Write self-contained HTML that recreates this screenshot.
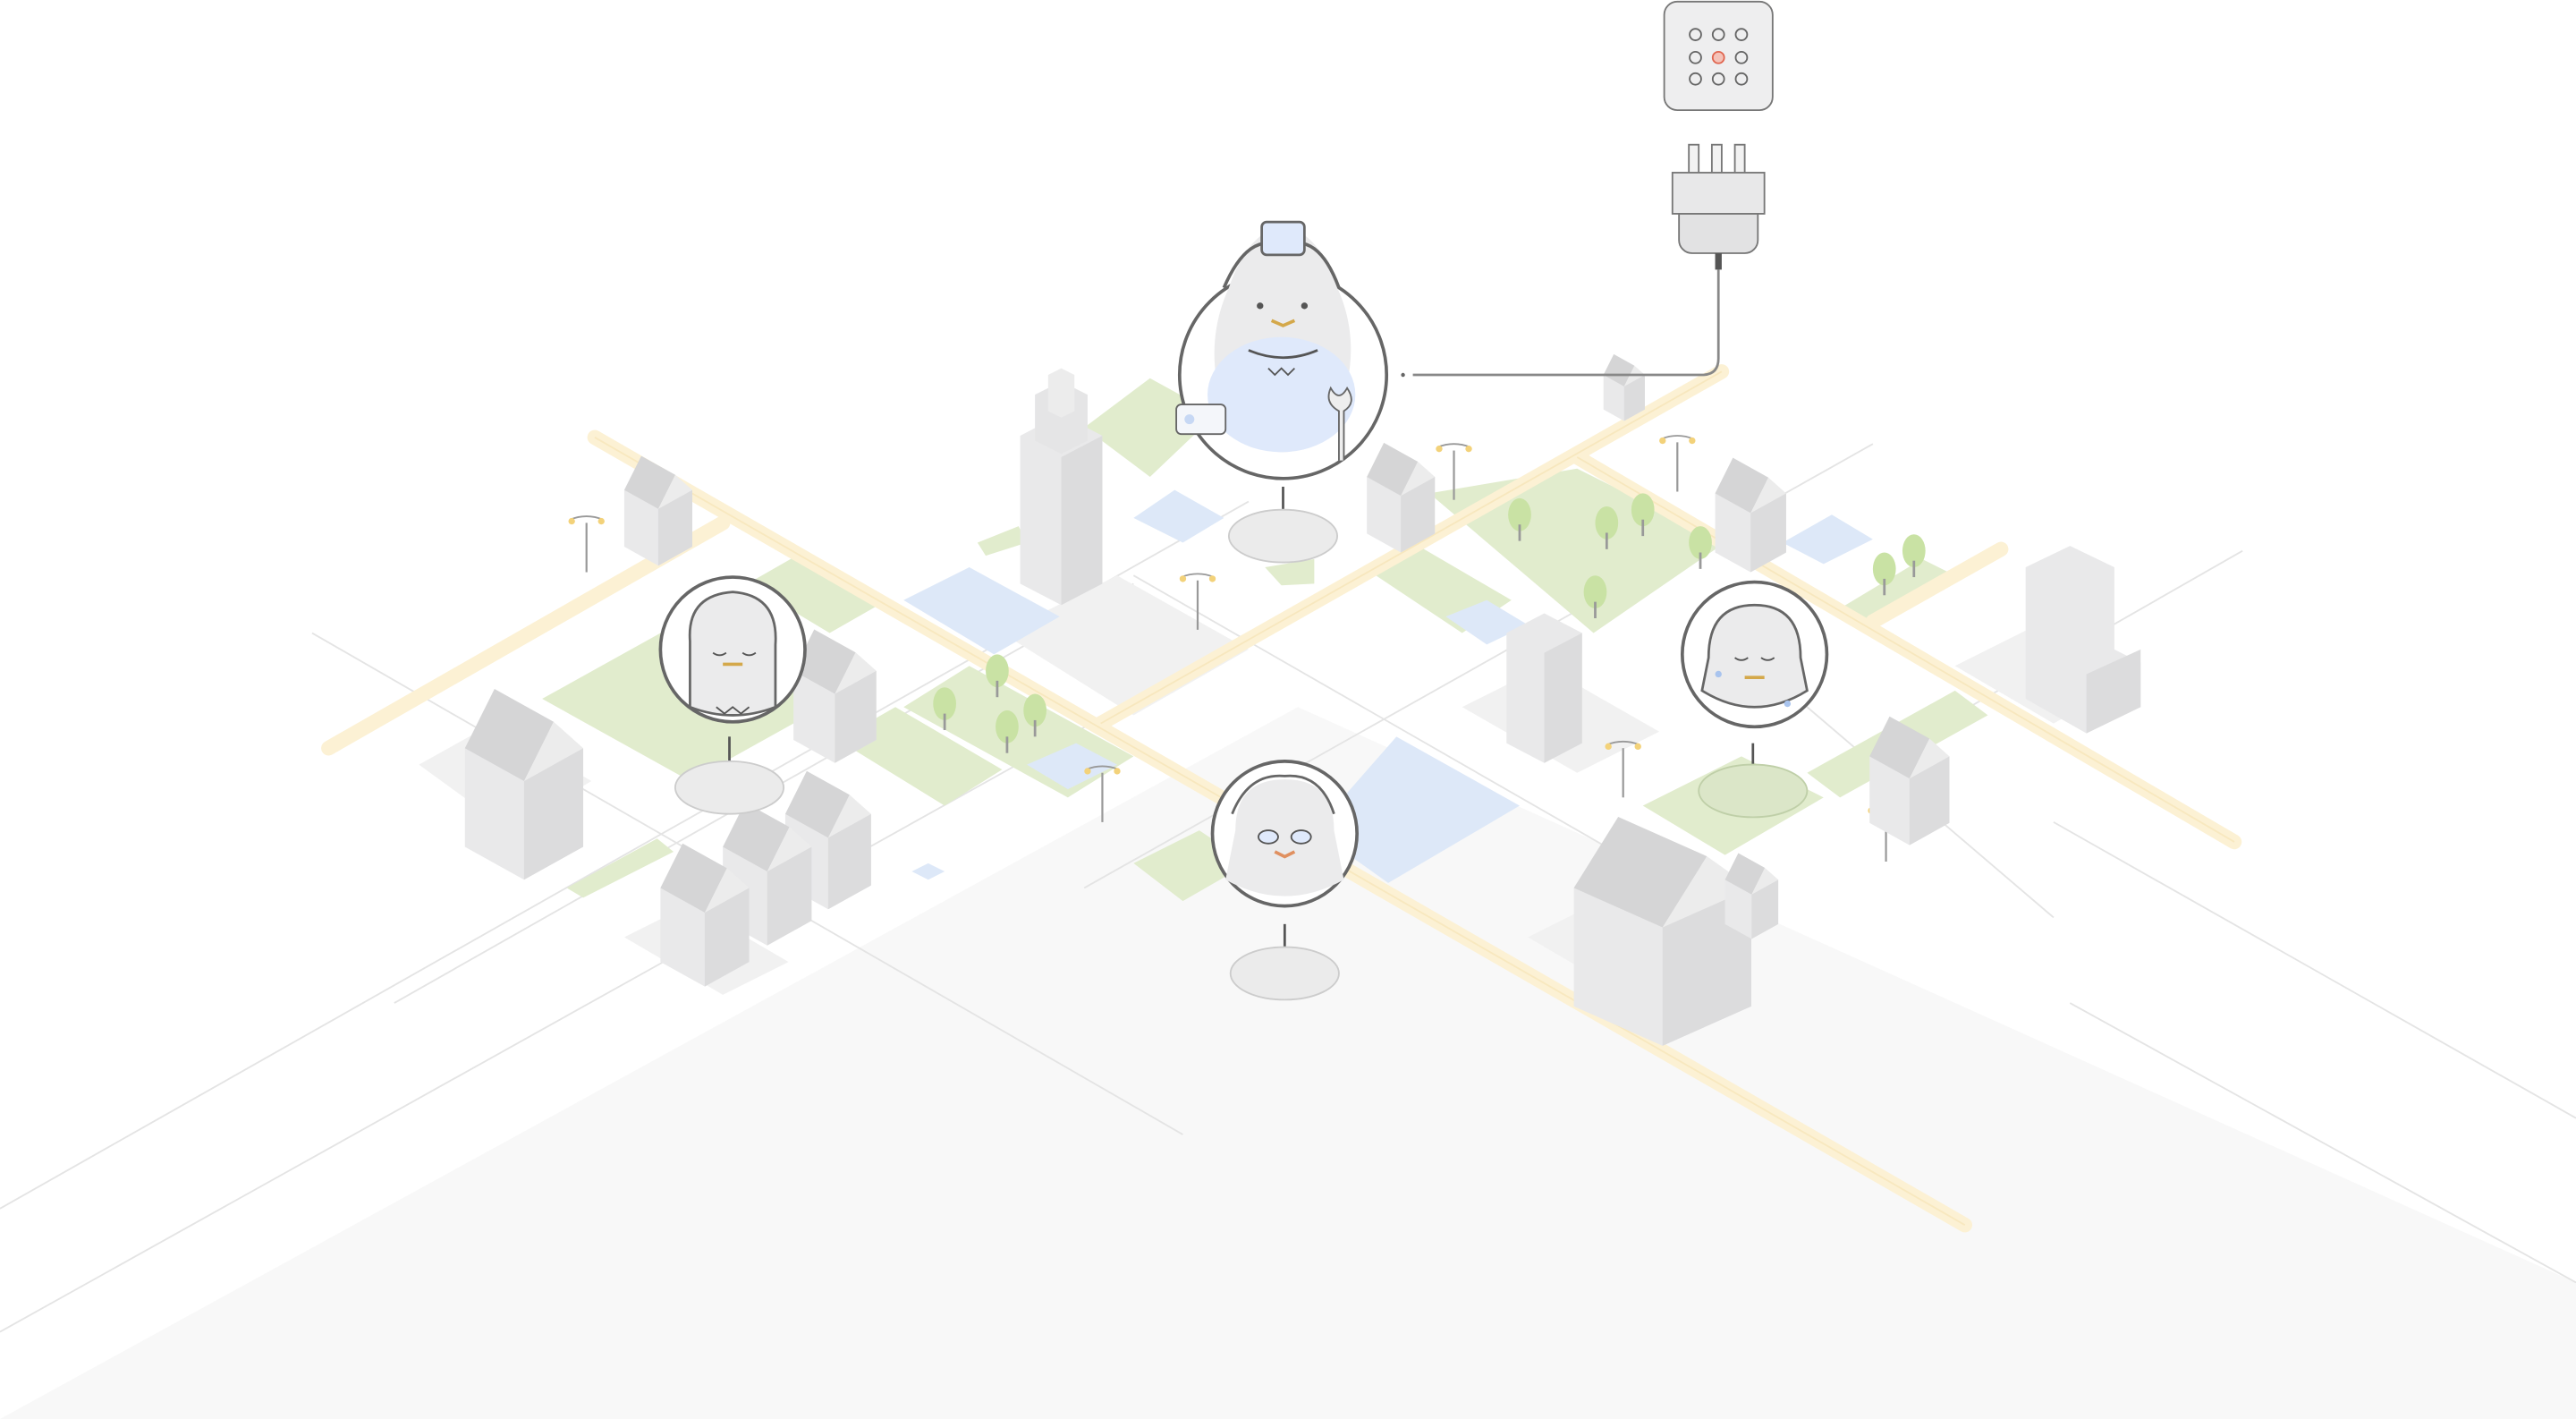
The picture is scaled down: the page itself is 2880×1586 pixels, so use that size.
<!DOCTYPE html>
<html><head><meta charset="utf-8"><style>html,body{margin:0;padding:0;background:#fff}svg{display:block}</style></head><body>
<svg width="2880" height="1586" viewBox="0 0 1568 863" preserveAspectRatio="none" xmlns="http://www.w3.org/2000/svg">
<defs>
<g id="house">
<polygon points="0,0 18,-10 36,0 36,30 18,40 0,30" fill="#e9e9ea"/>
<polygon points="18,10 36,0 36,30 18,40" fill="#dcdcdd"/>
<polygon points="0,0 9,-18 27,-8 18,10" fill="#d5d5d6"/>
<polygon points="18,10 27,-8 36,0" fill="#ececec"/>
</g>
<g id="tree"><ellipse cx="0" cy="0" rx="7" ry="10" fill="#c9e2a4"/><line x1="0" y1="6" x2="0" y2="16" stroke="#999" stroke-width="1.5"/></g>
<g id="lamp"><line x1="0" y1="0" x2="0" y2="30" stroke="#999" stroke-width="1.2"/><path d="M-10,-2 Q0,-6 10,-2" stroke="#999" fill="none"/><circle cx="-9" cy="-1" r="2" fill="#f3d27a"/><circle cx="9" cy="-1" r="2" fill="#f3d27a"/></g>
</defs>
<polygon points="0,863 790,430 1568,780 1568,863" fill="#f8f8f8"/>
<g stroke="#e4e4e4" stroke-width="1" fill="none">
<line x1="0" y1="735" x2="760" y2="305"/>
<line x1="0" y1="810" x2="700" y2="420"/>
<line x1="1568" y1="680" x2="1250" y2="500"/>
<line x1="1568" y1="780" x2="1260" y2="610"/>
<line x1="190" y1="385" x2="720" y2="690"/>
<line x1="240" y1="610" x2="690" y2="355"/>
<line x1="660" y1="540" x2="1140" y2="270"/>
<line x1="1365" y1="335" x2="1120" y2="475"/>
<line x1="690" y1="350" x2="1030" y2="545"/>
<line x1="1100" y1="430" x2="1250" y2="558"/>
</g>
<g fill="#f1f1f1">
<polygon points="255,465 300,440 360,475 310,505"/>
<polygon points="610,385 680,350 760,395 690,435"/>
<polygon points="890,430 940,405 1010,445 960,470"/>
<polygon points="930,570 980,545 1040,580 990,605"/>
<polygon points="1190,405 1240,380 1300,412 1250,440"/>
<polygon points="380,570 420,550 480,585 440,605"/>
</g>
<g fill="#e1eccd">
<polygon points="330,425 420,375 510,425 420,475"/>
<polygon points="455,355 490,335 540,365 505,385"/>
<polygon points="510,450 545,430 610,468 575,490"/>
<polygon points="550,430 590,405 690,460 650,485"/>
<polygon points="660,260 700,230 740,252 700,290"/>
<polygon points="870,300 960,285 1050,330 970,385"/>
<polygon points="830,345 860,330 920,365 890,385"/>
<polygon points="690,525 730,505 760,525 720,548"/>
<polygon points="1000,490 1060,460 1110,485 1050,520"/>
<polygon points="1100,470 1190,420 1210,435 1120,485"/>
<polygon points="345,540 400,510 410,518 355,546"/>
<polygon points="595,330 620,320 625,330 600,338"/>
<polygon points="770,345 800,340 800,355 780,356"/>
<polygon points="1120,370 1170,340 1190,350 1140,378"/>
</g>
<g fill="#dde8f8">
<polygon points="550,365 590,345 645,375 605,398"/>
<polygon points="690,315 715,298 745,315 720,330"/>
<polygon points="800,505 850,448 925,490 845,537"/>
<polygon points="880,375 905,365 930,380 905,392"/>
<polygon points="1085,330 1115,313 1140,328 1110,343"/>
<polygon points="625,465 655,452 680,465 650,480"/>
<polygon points="555,530 565,525 575,530 565,535"/>
</g>
<g stroke="#fcf1d4" stroke-width="9" stroke-linecap="round" fill="none">
<line x1="362" y1="266" x2="1196" y2="745"/>
<line x1="200" y1="455" x2="440" y2="318"/>
<line x1="670" y1="440" x2="1048" y2="226"/>
<line x1="960" y1="278" x2="1360" y2="512"/>
<line x1="1140" y1="378" x2="1218" y2="334"/>
</g>
<g stroke="#f5e2b0" stroke-width="1" fill="none" opacity="0.6">
<line x1="362" y1="266" x2="1196" y2="745"/>
<line x1="670" y1="440" x2="1048" y2="226"/>
<line x1="960" y1="278" x2="1360" y2="512"/>
</g>
<use href="#tree" x="607" y="408"/><use href="#tree" x="575" y="428"/><use href="#tree" x="613" y="442"/><use href="#tree" x="630" y="432"/>
<use href="#tree" x="925" y="313"/><use href="#tree" x="978" y="318"/><use href="#tree" x="1000" y="310"/><use href="#tree" x="1035" y="330"/><use href="#tree" x="971" y="360"/>
<use href="#tree" x="1147" y="346"/><use href="#tree" x="1165" y="335"/>
<use href="#lamp" x="357" y="318"/><use href="#lamp" x="729" y="353"/><use href="#lamp" x="885" y="274"/><use href="#lamp" x="1021" y="269"/><use href="#lamp" x="988" y="455"/><use href="#lamp" x="671" y="470"/><use href="#lamp" x="1148" y="494"/>
<use href="#house" x="380" y="298" transform="translate(380,298) scale(1.15) translate(-380,-298)"/>
<use href="#house" x="283" y="455" transform="translate(283,455) scale(2) translate(-283,-455)"/>
<use href="#house" x="483" y="408" transform="translate(483,408) scale(1.4) translate(-483,-408)"/>
<use href="#house" x="478" y="495" transform="translate(478,495) scale(1.45) translate(-478,-495)"/>
<use href="#house" x="440" y="515" transform="translate(440,515) scale(1.5) translate(-440,-515)"/>
<use href="#house" x="402" y="540" transform="translate(402,540) scale(1.5) translate(-402,-540)"/>
<use href="#house" x="832" y="290" transform="translate(832,290) scale(1.15) translate(-832,-290)"/>
<use href="#house" x="1044" y="300" transform="translate(1044,300) scale(1.2) translate(-1044,-300)"/>
<use href="#house" x="1138" y="460" transform="translate(1138,460) scale(1.35) translate(-1138,-460)"/>
<use href="#house" x="976" y="228" transform="translate(976,228) scale(0.7) translate(-976,-228)"/>
<use href="#house" x="958" y="540" transform="translate(958,540) scale(3.0,2.4) translate(-958,-540)"/>
<use href="#house" x="1050" y="535" transform="translate(1050,535) scale(0.9) translate(-1050,-535)"/>
<polygon points="621,265 646,252 671,265 671,355 646,368 621,355" fill="#e9e9ea"/><polygon points="646,278 671,265 671,355 646,368" fill="#dcdcdd"/>
<polygon points="630,240 646,232 662,240 662,268 646,276 630,268" fill="#e5e5e6"/>
<polygon points="638,228 646,224 654,228 654,250 646,254 638,250" fill="#ececec"/>
<polygon points="917,385 940,373 963,385 963,452 940,464 917,452" fill="#e9e9ea"/><polygon points="940,397 963,385 963,452 940,464" fill="#dcdcdd"/>
<polygon points="1233,345 1260,332 1287,345 1287,395 1303,403 1303,430 1270,446 1233,425" fill="#e9e9ea"/><polygon points="1270,410 1303,395 1303,430 1270,446" fill="#dcdcdd"/>
<rect x="1013" y="1" width="66" height="66" rx="8" fill="#eeeeef" stroke="#777" stroke-width="1"/>
<g fill="none" stroke="#666" stroke-width="1">
<circle cx="1032" cy="21" r="3.5"/><circle cx="1046" cy="21" r="3.5"/><circle cx="1060" cy="21" r="3.5"/>
<circle cx="1032" cy="35" r="3.5"/><circle cx="1060" cy="35" r="3.5"/>
<circle cx="1032" cy="48" r="3.5"/><circle cx="1046" cy="48" r="3.5"/><circle cx="1060" cy="48" r="3.5"/>
</g>
<circle cx="1046" cy="35" r="3.5" fill="#f4c2b8" stroke="#e06650"/>
<g stroke="#777" stroke-width="1">
<rect x="1028" y="88" width="6" height="18" fill="#f2f2f2"/><rect x="1042" y="88" width="6" height="18" fill="#f2f2f2"/><rect x="1056" y="88" width="6" height="18" fill="#f2f2f2"/>
<rect x="1018" y="105" width="56" height="25" fill="#e8e8e9"/>
<path d="M1022,130 h48 v16 a8,8 0 0 1 -8,8 h-32 a8,8 0 0 1 -8,-8 z" fill="#e2e2e3"/>
</g>
<rect x="1044" y="154" width="4" height="10" fill="#555"/>
<path d="M1046,164 V218 Q1046,228 1036,228 H860" stroke="#888" stroke-width="1.5" fill="none"/>
<circle cx="854" cy="228" r="1.2" fill="#666"/>
<g stroke="#555" stroke-width="1.5">
<line x1="781" y1="296" x2="781" y2="326"/><line x1="444" y1="448" x2="444" y2="479"/><line x1="1067" y1="452" x2="1067" y2="481"/><line x1="782" y1="562" x2="782" y2="592"/>
</g>
<ellipse cx="781" cy="326" rx="33" ry="16" fill="#ebebeb" stroke="#ccc"/>
<ellipse cx="444" cy="479" rx="33" ry="16" fill="#ebebeb" stroke="#ccc"/>
<ellipse cx="1067" cy="481" rx="33" ry="16" fill="#dbe6c8" stroke="#bfcfa8"/>
<ellipse cx="782" cy="592" rx="33" ry="16" fill="#ebebeb" stroke="#ccc"/>
<circle cx="781" cy="228" r="63" fill="#fff" stroke="#666" stroke-width="2"/>
<path d="M748,175 Q760,140 781,138 Q802,140 814,175 Q830,210 815,250 Q800,275 781,275 Q760,275 745,250 Q732,210 748,175 Z" fill="#ebebec"/>
<ellipse cx="780" cy="240" rx="45" ry="35" fill="#dfe9fb"/>
<path d="M745,175 Q760,140 781,150 Q802,140 815,175" stroke="#666" stroke-width="2" fill="none"/>
<rect x="768" y="135" width="26" height="20" rx="3" fill="#dfe9fb" stroke="#666" stroke-width="1.5"/>
<circle cx="767" cy="186" r="2" fill="#555"/><circle cx="794" cy="186" r="2" fill="#555"/>
<path d="M774,195 L781,198 L788,195" stroke="#d4a84a" stroke-width="2" fill="none"/>
<path d="M760,213 Q781,222 802,213" stroke="#555" fill="none" stroke-width="1.5"/>
<path d="M772,224 l4,4 l4,-4 l4,4 l4,-4" stroke="#555" fill="none"/>
<rect x="716" y="246" width="30" height="18" rx="3" fill="#f4f6fa" stroke="#666"/><circle cx="724" cy="255" r="3" fill="#c7d8f4"/>
<path d="M815,280 V250 Q806,245 810,236 Q815,245 820,236 Q826,245 818,250 V280" fill="#eee" stroke="#666"/>
<circle cx="446" cy="395" r="44" fill="#fff" stroke="#666" stroke-width="2"/>
<path d="M420,390 Q418,362 446,360 Q474,362 472,392 L472,430 Q446,440 420,430 Z" fill="#ebebec" stroke="#666" stroke-width="1.5"/>
<path d="M434,397 q4,3 8,0 M452,397 q4,3 8,0" stroke="#555" fill="none"/>
<path d="M440,404 h12" stroke="#d4a84a" stroke-width="2"/>
<path d="M436,430 l5,4 l5,-4 l5,4 l5,-4" stroke="#555" fill="none"/>
<circle cx="1068" cy="398" r="44" fill="#fff" stroke="#666" stroke-width="2"/>
<path d="M1040,400 Q1040,368 1068,368 Q1096,368 1096,400 L1100,420 Q1068,440 1036,420 Z" fill="#ebebec" stroke="#666" stroke-width="1.5"/>
<path d="M1056,400 q4,3 8,0 M1072,400 q4,3 8,0" stroke="#555" fill="none"/>
<path d="M1062,412 h12" stroke="#d4a84a" stroke-width="2"/>
<circle cx="1046" cy="410" r="2" fill="#a9c4ee"/><circle cx="1088" cy="428" r="2" fill="#a9c4ee"/>
<circle cx="782" cy="507" r="44" fill="#fff" stroke="#666" stroke-width="2"/>
<path d="M752,505 Q752,474 782,474 Q812,474 812,505 L818,535 Q782,555 746,535 Z" fill="#ebebec"/>
<path d="M750,495 Q760,470 782,472 Q804,470 812,495" stroke="#666" stroke-width="1.5" fill="none"/>
<ellipse cx="772" cy="509" rx="6" ry="4" fill="#dfe9fb" stroke="#555"/><ellipse cx="792" cy="509" rx="6" ry="4" fill="#dfe9fb" stroke="#555"/>
<path d="M776,518 L782,521 L788,518" stroke="#e09060" stroke-width="2" fill="none"/>
</svg>
</body></html>
